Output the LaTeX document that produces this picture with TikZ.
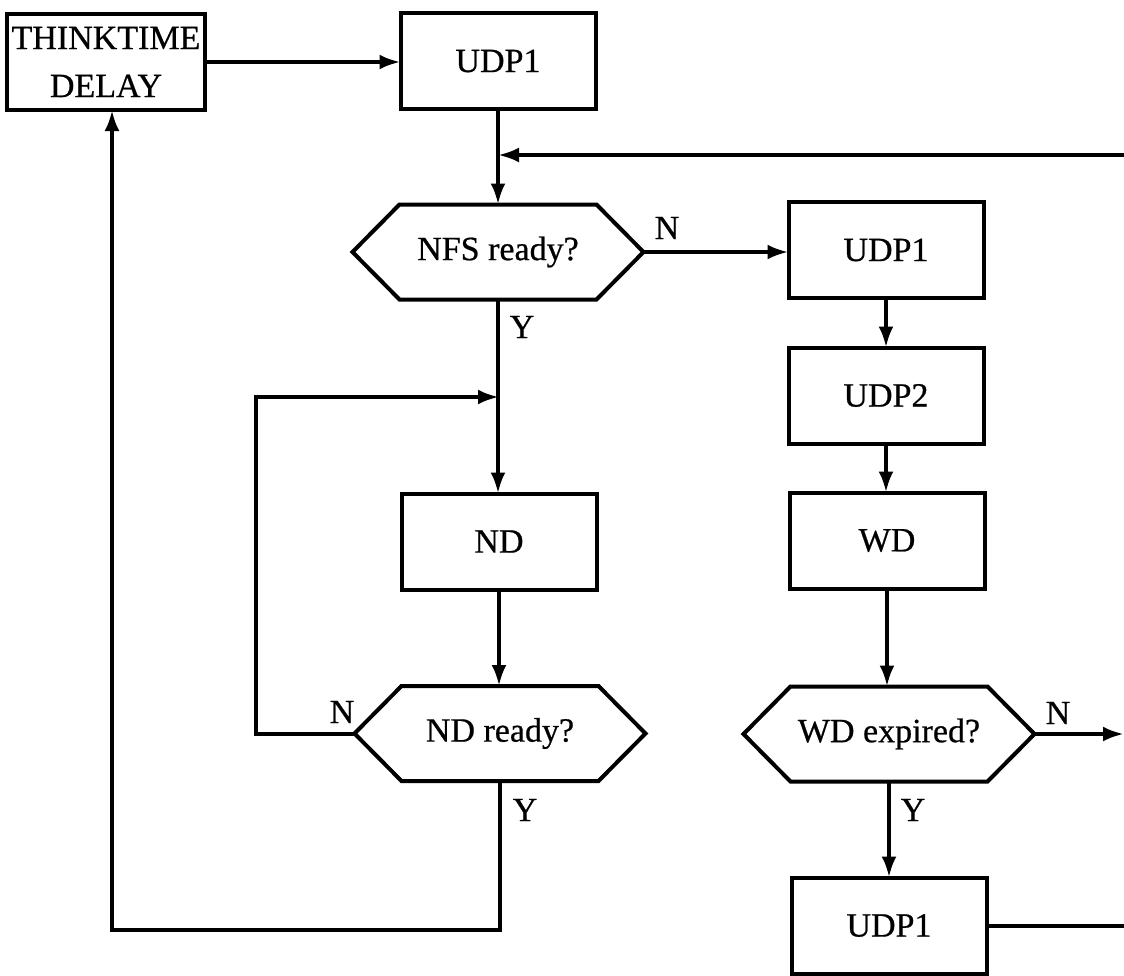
\documentclass[tikz,border=0pt]{standalone}
\usepackage{fontspec}
\setmainfont{Liberation Serif}
\newfontfamily\labelfont[FakeBold=0.6]{Liberation Serif}
\usetikzlibrary{arrows.meta,calc}
\begin{document}
\begin{tikzpicture}[x=0.5pt,y=-0.5pt,
  line width=2pt,
  every node/.style={font=\labelfont\fontsize{17}{24}\selectfont},
  procbox/.style={draw, line width=2pt, minimum width=97.5pt, minimum height=48pt, inner sep=0pt, outer sep=0pt},
  testbox/.style={minimum width=145.5pt, minimum height=47.5pt, inner sep=0pt, outer sep=0pt},
  flow/.style={-{Latex[length=10.5pt,width=7.5pt]}},
  tag/.style={inner sep=0pt}]
\useasboundingbox (0,0) rectangle (1124,975);

% process boxes
\node[procbox, align=center, minimum width=99pt] (think) at (106,62) {THINKTIME\\DELAY};
\node[procbox] (u1)  at (498,61)    {UDP1};
\node[procbox] (u1b) at (886,250)   {UDP1};
\node[procbox] (u2)  at (886,395.5) {UDP2};
\node[procbox] (wd)  at (887,540.5) {WD};
\node[procbox] (u1c) at (889,925.5) {UDP1};
\node[procbox] (nd)  at (499,541.5) {ND};

% decision nodes (outline drawn below)
\node[testbox] (nfs) at (498,252)   {NFS ready?};
\node[testbox] (ndr) at (500,733.5) {ND ready?};
\node[testbox] (wdx) at (889,734)   {WD expired?};

\foreach \n in {nfs,ndr,wdx}
  \draw (\n.west) -- ($(\n.north west)+(47,0)$) -- ($(\n.north east)+(-47,0)$)
        -- (\n.east) -- ($(\n.south east)+(-47,0)$) -- ($(\n.south west)+(47,0)$) -- cycle;

% free ends and bends
\coordinate (rin)  at (1124,155);
\coordinate (m1)   at (498,155);
\coordinate (lp)   at (256,397);
\coordinate (m2)   at (499,397);
\coordinate (wout) at (1124,734);
\coordinate (rout) at (1124,926);
\coordinate (bl)   at (112,930);

% connectors
\draw[flow] (think.east) -- (think.east -| u1.west);
\draw[flow] (u1.south) -- (u1.south |- nfs.north);
\draw[flow] (rin) -- (m1);
\draw[flow] (nfs.east) -- (nfs.east -| u1b.west);
\draw[flow] (u1b.south) -- (u1b.south |- u2.north);
\draw[flow] (u2.south) -- (u2.south |- wd.north);
\draw[flow] (wd.south) -- (wd.south |- wdx.north);
\draw[flow] (wdx.east) -- (wout);
\draw[flow] (wdx.south) -- (wdx.south |- u1c.north);
\draw (u1c.east) -- (u1c.east -| rout);
\draw[flow] (nfs.south) -- (nfs.south |- nd.north);
\draw[flow] (nd.south) -- (nd.south |- ndr.north);
\draw[flow] (ndr.west) -- (ndr.west -| lp) -- (lp) -- (m2);
\draw[flow] (ndr.south) |- (bl) -- (bl |- think.south);

% branch labels
\node[tag] (nN1) at (667,228)  {N};
\node[tag] (nY1) at (522,327)  {Y};
\node[tag] (nN2) at (342,712)  {N};
\node[tag] (nY2) at (525,810)  {Y};
\node[tag] (nN3) at (1058,713) {N};
\node[tag] (nY3) at (913,810)  {Y};
\end{tikzpicture}
\end{document}
